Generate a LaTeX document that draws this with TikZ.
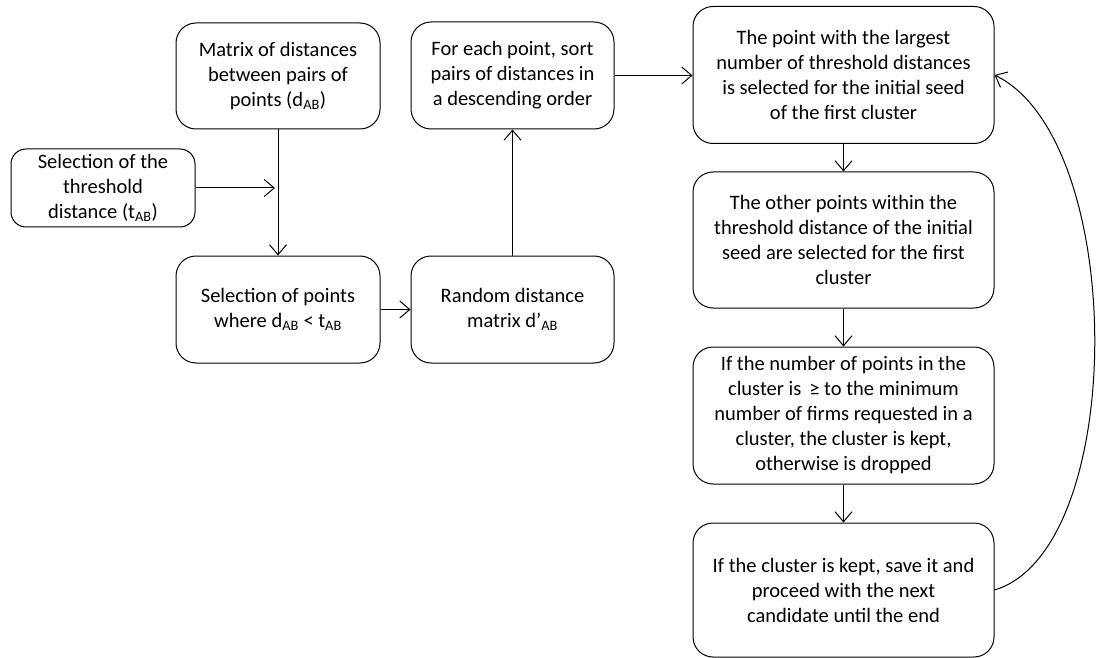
\documentclass[tikz,border=0pt]{standalone}
\usepackage{fontspec}
\setmainfont{Carlito}
\usetikzlibrary{arrows.meta}
\begin{document}
\begin{tikzpicture}[x=1pt,y=-1pt,
  box/.style={draw, line width=1pt, rounded corners=20pt, align=center,
    font=\fontsize{20.5}{25}\selectfont, inner sep=0pt},
  arr/.style={line width=1pt, -{Straight Barb[length=10pt,width=17pt,line width=1pt]}}]
\useasboundingbox (0,0) rectangle (1096,658);
\node[box, rounded corners=15pt, minimum width=184pt, minimum height=78pt] (thr) at (103,188)
  {Selection of the\\threshold\\distance (t\textsubscript{AB})};
\node[box, minimum width=204pt, minimum height=106pt] (mat) at (278,76)
  {Matrix of distances\\between pairs of\\points (d\textsubscript{AB})};
\node[box, minimum width=204pt, minimum height=107pt] (sel) at (278,309.5)
  {Selection of points\\where d\textsubscript{AB} < t\textsubscript{AB}};
\node[box, minimum width=203pt, minimum height=107pt] (rnd) at (512.5,309.5)
  {Random distance\\matrix d’\textsubscript{AB}};
\node[box, minimum width=203pt, minimum height=107pt] (fe) at (512.5,75.5)
  {For each point, sort\\pairs of distances in\\a descending order};
\node[box, minimum width=301pt, minimum height=137pt] (b1) at (843.5,75)
  {The point with the largest\\number of threshold distances\\is selected for the initial seed\\of the first cluster};
\node[box, minimum width=301pt, minimum height=136pt] (b2) at (843.5,240)
  {The other points within the\\threshold distance of the initial\\seed are selected for the first\\cluster};
\node[box, minimum width=301pt, minimum height=137pt] (b3) at (843.5,415.5)
  {If the number of points in the\\cluster is \,≥ to the minimum\\number of firms requested in a\\cluster, the cluster is kept,\\otherwise is dropped};
\node[box, minimum width=301pt, minimum height=134pt] (b4) at (843.5,590)
  {If the cluster is kept, save it and\\proceed with the next\\candidate until the end};
\coordinate (thrEnd) at (275,188);
\draw[arr] (thr.east) -- (thrEnd);
\draw[arr] (mat.south) -- (sel.north);
\draw[arr] (sel.east) -- (rnd.west);
\draw[arr] (rnd.north) -- (fe.south);
\draw[arr] (fe.east) -- (fe.east -| b1.west);
\draw[arr] (b1.south) -- (b2.north);
\draw[arr] (b2.south) -- (b3.north);
\draw[arr] (b3.south) -- (b4.north);
\draw[arr] (b4.east) .. controls (1128,550) and (1128,140) .. (b1.east);
\end{tikzpicture}
\end{document}
